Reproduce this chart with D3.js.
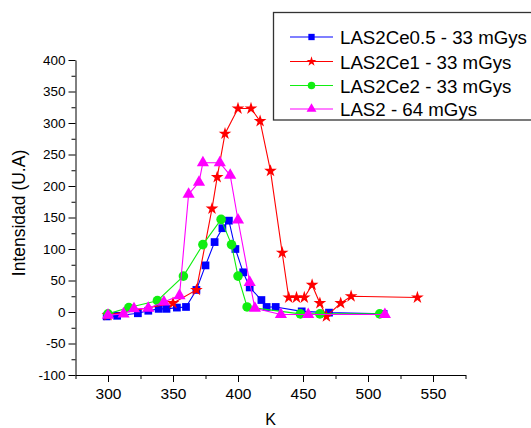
<!DOCTYPE html>
<html>
<head>
<meta charset="utf-8">
<script src="https://cdn.jsdelivr.net/npm/d3@7"></script>
<style>
  html, body { margin: 0; padding: 0; background: #fff; }
  svg { display: block; font-family: "Liberation Sans", Arial, sans-serif; }
</style>
</head>
<body>
<svg id="chart" width="531" height="428"></svg>
<script>
// Thermoluminescence glow curves: temperature (K) vs intensity (U.A)
const seriesNames = ["LAS2Ce0.5 - 33 mGys", "LAS2Ce1 - 33 mGys", "LAS2Ce2 - 33 mGys", "LAS2 - 64 mGys"];

const ce05K = [299, 307, 323, 331, 339, 345, 353, 360, 368, 375, 382, 388, 393, 398, 404, 409, 418, 422, 429, 449, 470, 512];
const ce05I = [-7, -6, -2, 2, 5, 5, 7, 8, 35, 74, 111, 133, 145, 100, 63, 39, 19, 8, 8, 1, -1, -3];

const ce1K = [300, 350, 368, 380, 384, 390, 400, 410, 417, 425, 434, 439, 445, 451, 457, 463, 468, 479, 487, 538];
const ce1I = [-5, 14, 35, 164, 214, 283, 323, 323, 303, 224, 94, 23, 23, 23, 43, 14, -7, 14, 25, 23];

const ce2K = [300, 316, 338, 358, 373, 387, 395, 400, 407, 448, 463, 509];
const ce2I = [-3, 7, 18, 57, 107, 147, 107, 57, 8, -3, -3, -3];

const las2K = [300, 312, 320, 331, 343, 355, 362, 370, 373, 386, 394, 400, 409, 413, 433, 454, 513];
const las2I = [-5, -3, 5, 6, 16, 26, 187, 206, 237, 237, 217, 146, 47, 6, -4, -4, -4];

const xMajorTicks = [300, 350, 400, 450, 500, 550];
const xMinorTicks = [275, 325, 375, 425, 475, 525, 575];
const yMajorTicks = [-100, -50, 0, 50, 100, 150, 200, 250, 300, 350, 400];
const yMinorTicks = [-75, -25, 25, 75, 125, 175, 225, 275, 325, 375];

const seriesColors = ["#0000ff", "#ff0000", "#11ee11", "#ff00ff"];
const seriesSymbols = [d3.symbolSquare, d3.symbolStar, d3.symbolCircle, d3.symbolTriangle];
const symbolSizes = [60, 50, 72, 64];
const legendSizes = [40, 30, 44, 42];

const series = [
  { k: ce05K, v: ce05I },
  { k: ce1K, v: ce1I },
  { k: ce2K, v: ce2I },
  { k: las2K, v: las2I }
].map((s, i) => ({
  name: seriesNames[i],
  color: seriesColors[i],
  symbol: seriesSymbols[i],
  size: symbolSizes[i],
  legendSize: legendSizes[i],
  points: s.k.map((k, j) => ({ k, v: s.v[j] }))
}));

const svg = d3.select("#chart");

const x = d3.scaleLinear().domain([275, 575]).range([75.5, 465.5]);
const y = d3.scaleLinear().domain([-100, 400]).range([375, 60]);

// Plain hyphen-minus for negative tick labels
const plain = d => String(d);

// Axes: major ticks with labels, minor ticks without
const gx = svg.append("g").attr("transform", "translate(0,375)");
gx.call(d3.axisBottom(x).tickValues(xMajorTicks).tickSize(7).tickSizeOuter(0).tickPadding(6).tickFormat(plain));
gx.append("g").call(d3.axisBottom(x).tickValues(xMinorTicks).tickSize(4).tickFormat(""))
  .select(".domain").remove();
gx.selectAll("text").attr("font-size", 15.5).attr("fill", "#000").attr("font-family", "Liberation Sans, Arial, sans-serif");

const gy = svg.append("g").attr("transform", "translate(75.5,0)");
gy.call(d3.axisLeft(y).tickValues(yMajorTicks).tickSize(7).tickSizeOuter(0).tickPadding(3).tickFormat(plain));
gy.append("g").call(d3.axisLeft(y).tickValues(yMinorTicks).tickSize(4).tickFormat(""))
  .select(".domain").remove();
gy.selectAll("text").attr("font-size", 13.5).attr("fill", "#000").attr("font-family", "Liberation Sans, Arial, sans-serif");

svg.selectAll(".domain, .tick line").attr("stroke", "#000").attr("stroke-width", 1);

// Axis titles
svg.append("text")
  .attr("transform", "translate(25,213) rotate(-90)")
  .attr("text-anchor", "middle")
  .attr("font-size", 17.5)
  .text("Intensidad (U.A)");

svg.append("text")
  .attr("x", 270.5)
  .attr("y", 425)
  .attr("text-anchor", "middle")
  .attr("font-size", 16)
  .text("K");

// Lines and markers
const line = d3.line().x(d => x(d.k)).y(d => y(d.v));

series.forEach(s => {
  const g = svg.append("g");
  g.append("path")
    .datum(s.points)
    .attr("fill", "none")
    .attr("stroke", s.color)
    .attr("stroke-width", 1.1)
    .attr("d", line);
  g.selectAll("path.mark")
    .data(s.points)
    .join("path")
    .attr("class", "mark")
    .attr("transform", d => `translate(${x(d.k)},${y(d.v)})`)
    .attr("d", d3.symbol().type(s.symbol).size(s.size))
    .attr("fill", s.color);
});

// Legend
const legend = svg.append("g");
legend.append("rect")
  .attr("x", 273.5).attr("y", 12.5)
  .attr("width", 270).attr("height", 107.5)
  .attr("fill", "#fff")
  .attr("stroke", "#333").attr("stroke-width", 1.3);

const rowY = [37, 61.5, 85.5, 109];
series.forEach((s, i) => {
  const row = legend.append("g").attr("transform", `translate(0,${rowY[i]})`);
  row.append("line")
    .attr("x1", 290).attr("x2", 333)
    .attr("stroke", s.color).attr("stroke-width", 1.1);
  row.append("path")
    .attr("transform", "translate(311.5,0)")
    .attr("d", d3.symbol().type(s.symbol).size(s.legendSize))
    .attr("fill", s.color);
  row.append("text")
    .attr("x", 340)
    .attr("y", 7)
    .attr("font-size", 18.7)
    .text(s.name);
});
</script>
</body>
</html>
